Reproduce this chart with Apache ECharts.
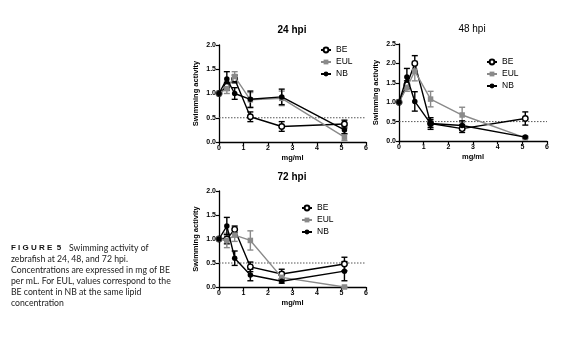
<!DOCTYPE html>
<html><head><meta charset="utf-8">
<script src="https://cdn.jsdelivr.net/npm/echarts@6/dist/echarts.min.js"></script>
<style>html,body{margin:0;padding:0;background:#fff}#c{width:572px;height:358px}</style>
</head><body><div id="c"></div>
<script>
var conc = [0, 0.32, 0.64, 1.28, 2.56, 5.12];
var seriesNames = ['BE', 'EUL', 'NB'];
var panelTitles = ['24 hpi', '48 hpi', '72 hpi'];
var xTicks = [0, 1, 2, 3, 4, 5, 6];
var yMax = [2.0, 2.5, 2.0];
var threshold = 0.5;

// 24 hpi
var BE24 = [1.0, 1.15, 1.3, 0.52, 0.32, 0.37];
var BE24err = [0, 0.08, 0.08, 0.1, 0.1, 0.08];
var EUL24 = [1.0, 1.1, 1.35, 0.87, 0.9, 0.1];
var EUL24err = [0, 0.1, 0.1, 0.15, 0.15, 0.07];
var NB24 = [1.0, 1.3, 1.0, 0.88, 0.93, 0.25];
var NB24err = [0, 0.15, 0.12, 0.17, 0.16, 0.08];
// 48 hpi
var BE48 = [1.0, 1.45, 2.0, 0.45, 0.32, 0.58];
var BE48err = [0, 0.1, 0.2, 0.1, 0.1, 0.17];
var EUL48 = [1.0, 1.38, 1.8, 1.08, 0.67, 0.08];
var EUL48err = [0, 0.1, 0.25, 0.2, 0.2, 0.02];
var NB48 = [1.0, 1.65, 1.02, 0.45, 0.4, 0.1];
var NB48err = [0, 0.22, 0.25, 0.15, 0.12, 0.02];
// 72 hpi
var BE72 = [1.0, 1.0, 1.2, 0.42, 0.27, 0.48];
var BE72err = [0, 0.1, 0.07, 0.1, 0.1, 0.14];
var EUL72 = [1.0, 0.97, 1.08, 0.97, 0.2, 0.0];
var EUL72err = [0, 0.15, 0.13, 0.2, 0.05, 0.01];
var NB72 = [1.0, 1.27, 0.6, 0.25, 0.12, 0.33];
var NB72err = [0, 0.18, 0.15, 0.12, 0.04, 0.2];

var captionLines = [
  'Swimming activity of',
  'zebrafish at 24, 48, and 72 hpi.',
  'Concentrations are expressed in mg of BE',
  'per mL. For EUL, values correspond to the',
  'BE content in NB at the same lipid',
  'concentration'
];

var panels = [
  {vals: [BE24, EUL24, NB24], errs: [BE24err, EUL24err, NB24err]},
  {vals: [BE48, EUL48, NB48], errs: [BE48err, EUL48err, NB48err]},
  {vals: [BE72, EUL72, NB72], errs: [BE72err, EUL72err, NB72err]}
];

var FONT = 'Liberation Sans';
var GREY = '#8a8a8a';
var gridPos = [
  {left: 219, top: 45, width: 147, height: 97},
  {left: 399, top: 44, width: 148, height: 97},
  {left: 219, top: 191, width: 147, height: 96}
];
var titlePos = [[292, 25], [472, 24], [292, 172]];
var titleWeight = ['bold', 'normal', 'bold'];
var legendPos = [[320, 45.5], [486, 57.5], [301, 203.5]];

var styles = [
  {color: '#000', symbol: 'circle', itemStyle: {color: '#fff', borderColor: '#000', borderWidth: 1.4}},
  {color: GREY, symbol: 'rect', itemStyle: {color: GREY, borderColor: GREY, borderWidth: 0}},
  {color: '#000', symbol: 'circle', itemStyle: {color: '#000', borderColor: '#000', borderWidth: 0}}
];

var option = {
  animation: false,
  backgroundColor: '#fff',
  textStyle: {fontFamily: FONT},
  title: [], legend: [], grid: [], xAxis: [], yAxis: [], series: [],
  graphic: []
};

panels.forEach(function (p, k) {
  option.grid.push(gridPos[k]);
  option.title.push({
    text: panelTitles[k], left: titlePos[k][0], top: titlePos[k][1], textAlign: 'center', padding: 0,
    textStyle: {fontFamily: FONT, fontSize: 10, fontWeight: titleWeight[k], color: '#000'}
  });
  option.legend.push({
    data: seriesNames, orient: 'vertical', left: legendPos[k][0], top: legendPos[k][1],
    padding: 0, itemWidth: 10, itemHeight: 6, itemGap: 3,
    textStyle: {fontFamily: FONT, fontSize: 8.5, color: '#000'}
  });
  option.xAxis.push({
    type: 'value', gridIndex: k, min: 0, max: 6, interval: 1,
    name: 'mg/ml', nameLocation: 'middle', nameGap: 12,
    nameTextStyle: {fontFamily: FONT, fontSize: 7.5, fontWeight: 'bold', color: '#000'},
    axisLine: {onZero: false, lineStyle: {color: '#000', width: 1.3}},
    axisTick: {length: 3, lineStyle: {color: '#000', width: 1.2}},
    axisLabel: {fontFamily: FONT, fontSize: 7, fontWeight: 'bold', color: '#000', margin: 3},
    splitLine: {show: false}
  });
  option.yAxis.push({
    type: 'value', gridIndex: k, min: 0, max: yMax[k], interval: 0.5,
    name: 'Swimming activity', nameLocation: 'middle', nameGap: 19,
    nameTextStyle: {fontFamily: FONT, fontSize: 7.5, fontWeight: 'bold', color: '#000'},
    axisLine: {show: true, lineStyle: {color: '#000', width: 1.3}},
    axisTick: {show: true, length: 3, lineStyle: {color: '#000', width: 1.2}},
    axisLabel: {fontFamily: FONT, fontSize: 7, fontWeight: 'bold', color: '#000', margin: 3,
      formatter: function (v) { return v.toFixed(1); }},
    splitLine: {show: false}
  });
  // threshold line
  option.series.push({
    type: 'line', xAxisIndex: k, yAxisIndex: k, data: [[0, threshold], [6, threshold]],
    symbol: 'none', silent: true, z: 1,
    lineStyle: {color: '#555', width: 1, type: [1.5, 1.5]}
  });
  p.vals.forEach(function (vals, s) {
    var st = styles[s];
    var errs = p.errs[s];
    var errData = conc.map(function (x, i) { return [x, vals[i] - errs[i], vals[i] + errs[i]]; });
    option.series.push({
      type: 'custom', name: seriesNames[s] + '_err', xAxisIndex: k, yAxisIndex: k,
      data: errData, z: 2 + s, silent: true,
      renderItem: function (params, api) {
        var x = api.value(0);
        var lo = api.coord([x, api.value(1)]);
        var hi = api.coord([x, api.value(2)]);
        if (Math.abs(hi[1] - lo[1]) < 0.5) return null;
        var cw = 3;
        var ls = {stroke: st.color, lineWidth: 1.4};
        return {type: 'group', children: [
          {type: 'line', shape: {x1: lo[0], y1: lo[1], x2: hi[0], y2: hi[1]}, style: ls},
          {type: 'line', shape: {x1: lo[0] - cw, y1: lo[1], x2: lo[0] + cw, y2: lo[1]}, style: ls},
          {type: 'line', shape: {x1: hi[0] - cw, y1: hi[1], x2: hi[0] + cw, y2: hi[1]}, style: ls}
        ]};
      }
    });
    option.series.push({
      type: 'line', name: seriesNames[s], xAxisIndex: k, yAxisIndex: k,
      data: conc.map(function (x, i) { return [x, vals[i]]; }),
      symbol: st.symbol, symbolSize: 5.5, z: 5 + s,
      lineStyle: {color: st.color, width: 1.4},
      itemStyle: st.itemStyle
    });
  });
});

option.graphic.push({
  type: 'text', left: 11, top: 244,
  style: {text: 'F I G U R E  5', fontFamily: FONT, fontSize: 8, fontWeight: 'bold', fill: '#111'}
});
captionLines.forEach(function (line, i) {
  option.graphic.push({
    type: 'text', left: i === 0 ? 69 : 11, top: 244 + i * 11,
    style: {text: line, fontFamily: 'Lato', fontSize: 8.7, fill: '#222'}
  });
});

var chart = echarts.init(document.getElementById('c'), null, {renderer: 'canvas'});
chart.setOption(option);
</script>
</body></html>
